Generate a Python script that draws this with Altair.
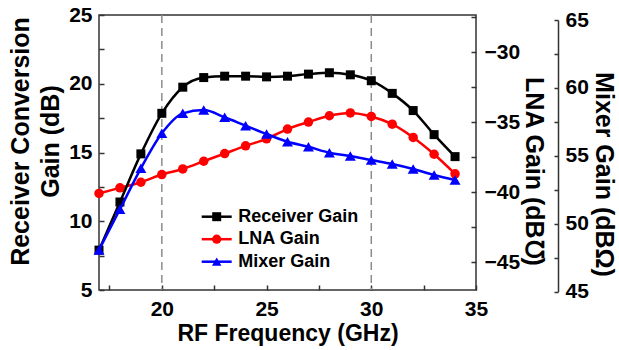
import altair as alt
import pandas as pd

# ---------------- data ----------------
freq = [17, 18, 19, 20, 21, 22, 23, 24, 25, 26, 27, 28, 29, 30, 31, 32, 33, 34]
receiver_gain = [7.9, 11.4, 14.9, 17.85, 19.75, 20.45, 20.55, 20.55, 20.5, 20.55,
                 20.7, 20.8, 20.65, 20.22, 19.3, 18.05, 16.3, 14.7]
lna_gain = [-40.1, -39.7, -39.3, -38.75, -38.35, -37.8, -37.25, -36.7, -36.2, -35.5,
            -35.0, -34.55, -34.35, -34.6, -35.15, -36.1, -37.3, -38.7]
mixer_gain = [48.07, 51.07, 54.08, 56.66, 58.13, 58.37, 57.84, 57.22, 56.61, 56.04,
              55.67, 55.23, 54.99, 54.69, 54.40, 54.03, 53.59, 53.22]
series_names = ["Receiver Gain", "LNA Gain", "Mixer Gain"]
series_colors = ["#000000", "#ff0000", "#0000ff"]
series_shapes = ["square", "circle", "triangle-up"]
series_sizes = [81, 90, 120]
marker_freqs = [20, 30]

x_labels = [20, 25, 30, 35]
x_ticks = [17.5, 20, 22.5, 25, 27.5, 30, 32.5, 35]
rx_labels = [5, 10, 15, 20, 25]
rx_ticks = [5, 7.5, 10, 12.5, 15, 17.5, 20, 22.5, 25]
lna_labels = [-45, -40, -35, -30]
lna_ticks = [-45, -42.5, -40, -37.5, -35, -32.5, -30, -27.5]
mix_labels = [45, 50, 55, 60, 65]
mix_ticks = [45, 47.5, 50, 52.5, 55, 57.5, 60, 62.5, 65]

df = pd.DataFrame({"freq": freq, "rx": receiver_gain, "lna": lna_gain, "mix": mixer_gain})
legend_df = pd.DataFrame({"series": series_names})

# ---------------- layout / style ----------------
W, H = 377, 275
FONT = "Liberation Sans"
MIX_OFFSET = 82
AX = "#333333"

xs = alt.Scale(domain=[17, 35], nice=False, zero=False)
ys_rx = alt.Scale(domain=[5, 25], nice=False, zero=False)
ys_lna = alt.Scale(domain=[-47, -27.35], nice=False, zero=False)
ys_mix = alt.Scale(domain=[45, 65], range=[276.7, 5], nice=False, zero=False)

lab = dict(labelFont=FONT, labelFontSize=21, labelFontWeight="bold", labelColor="black",
           titleFont=FONT, titleFontWeight="bold", titleColor="black", grid=False)


def tick_axis(orient, offset, values, size=5):
    # inward-pointing ticks: an axis of the opposite side, moved across the plot
    return alt.Axis(orient=orient, offset=offset, values=values, labels=True, labelOpacity=0,
                    domain=True, domainOpacity=0, grid=False, title=None, ticks=True,
                    tickSize=size, tickColor=AX, tickWidth=1.5)


x_label_axis = alt.Axis(orient="bottom", values=x_labels, ticks=False, tickSize=0, domain=False,
                        labelFlush=False, labelBaseline="alphabetic", labelPadding=25,
                        title="RF Frequency (GHz)", titleFontSize=23, titleBaseline="alphabetic",
                        titleY=50, **lab)
x_tick_axis = tick_axis("top", -H, x_ticks)

rx_label_axis = alt.Axis(orient="left", values=rx_labels, ticks=False, tickSize=0, domain=False,
                         labelPadding=7, title=["Receiver Conversion", "Gain (dB)"],
                         titleFontSize=25, titleAngle=-90, titleAlign="center",
                         titleBaseline="middle", titleLineHeight=30, titleX=-79, titleY=126, **lab)
rx_tick_axis = tick_axis("right", -W, rx_ticks)

lna_label_axis = alt.Axis(orient="right", values=lna_labels, ticks=False, tickSize=0, domain=False,
                          labelPadding=8, title="LNA Gain (dB\u2127)", titleFontSize=25,
                          titleAngle=90, titleAlign="center", titleBaseline="middle",
                          titleX=57, titleY=156, **lab)
lna_tick_axis = tick_axis("left", -W, lna_ticks)

mix_label_axis = alt.Axis(orient="right", offset=MIX_OFFSET, values=mix_labels, ticks=False,
                          tickSize=0, domain=True, domainColor=AX, domainWidth=1.5,
                          labelPadding=7, title="Mixer Gain (dB\u03a9)", titleFontSize=25,
                          titleAngle=90, titleAlign="center", titleBaseline="middle",
                          titleX=45, titleY=159, **lab)
mix_tick_axis = tick_axis("left", -(W + MIX_OFFSET), mix_ticks, size=4)

base = alt.Chart(df)

dashed = alt.Chart(pd.DataFrame({"f": marker_freqs})).mark_rule(
    color="#8c8c8c", strokeDash=[8, 5], strokeWidth=1.5
).encode(x=alt.X("f:Q", scale=xs, axis=x_label_axis))


def series_layers(field, scale, color, shape, size, axis_line, axis_pts, x_axis=None):
    line = base.mark_line(color=color, strokeWidth=2.5, interpolate="monotone").encode(
        x=alt.X("freq:Q", scale=xs, axis=x_axis),
        y=alt.Y(f"{field}:Q", scale=scale, axis=axis_line),
    )
    pts = base.mark_point(shape=shape, filled=True, size=size, color=color, opacity=1).encode(
        x=alt.X("freq:Q", scale=xs, axis=None),
        y=alt.Y(f"{field}:Q", scale=scale, axis=axis_pts),
    )
    return [line, pts]


lna_l = series_layers("lna", ys_lna, series_colors[1], series_shapes[1], series_sizes[1],
                      lna_label_axis, lna_tick_axis)
rx_l = series_layers("rx", ys_rx, series_colors[0], series_shapes[0], series_sizes[0],
                     rx_label_axis, rx_tick_axis, x_axis=x_tick_axis)
mix_l = series_layers("mix", ys_mix, series_colors[2], series_shapes[2], series_sizes[2],
                      mix_label_axis, mix_tick_axis)

# ---------------- legend ----------------
leg_y = alt.Y("series:N", scale=alt.Scale(type="point", domain=series_names,
                                          range=[201.7, 246.7], padding=0), axis=None)
leg_color = alt.Color("series:N", scale=alt.Scale(domain=series_names, range=series_colors),
                      legend=None)
leg_shape = alt.Shape("series:N", scale=alt.Scale(domain=series_names, range=series_shapes),
                      legend=None)
leg_size = alt.Size("series:N", scale=alt.Scale(domain=series_names, range=series_sizes),
                    legend=None)
lg = alt.Chart(legend_df)
leg_rule = lg.mark_rule(strokeWidth=2.5).encode(
    x=alt.value(102.7), x2=alt.value(132.7), y=leg_y, color=leg_color)
leg_pts = lg.mark_point(filled=True, opacity=1).encode(
    x=alt.value(117.7), y=leg_y, color=leg_color, shape=leg_shape, size=leg_size)
leg_text = lg.mark_text(align="left", baseline="middle", font=FONT, fontSize=18,
                        fontWeight="bold", color="black").encode(
    x=alt.value(139.3), y=leg_y, text="series:N")

chart = alt.layer(
    dashed, *lna_l, *rx_l, *mix_l, leg_rule, leg_pts, leg_text
).resolve_scale(
    x="shared", y="independent", color="independent", shape="independent", size="independent"
).resolve_axis(
    x="independent", y="independent"
).properties(
    width=W, height=H,
    autosize=alt.AutoSizeParams(type="none"),
    padding={"left": 99, "top": 15, "right": 143, "bottom": 60},
    background="white",
).configure_view(
    stroke=AX, strokeWidth=1.5
).configure_axis(grid=False)

chart.save("out.html", embed_options={"renderer": "svg", "actions": False})
